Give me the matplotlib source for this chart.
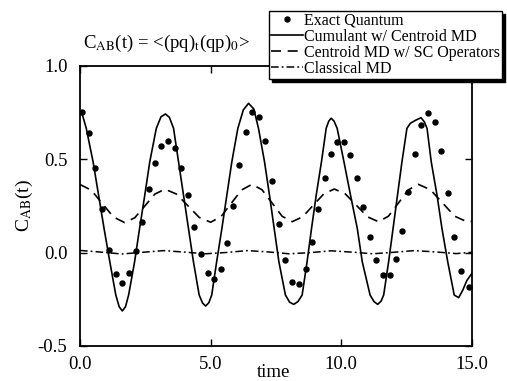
import matplotlib
matplotlib.use("Agg")
import matplotlib.pyplot as plt

plt.rcParams['font.family'] = ['Liberation Serif', 'DejaVu Serif']
plt.rcParams['mathtext.fontset'] = 'stix'

# Exact quantum (dots)
t_exact = [0.08, 0.33, 0.59, 0.85, 1.11, 1.37, 1.62, 1.88, 2.13, 2.37, 2.63, 2.86, 3.11, 3.37, 3.63,
           3.87, 4.12, 4.38, 4.64, 4.89, 5.14, 5.40, 5.64, 5.87, 6.10, 6.35, 6.60, 6.86, 7.09, 7.34,
           7.61, 7.86, 8.12, 8.37, 8.63, 8.86, 9.10, 9.36, 9.59, 9.84, 10.10, 10.35, 10.61, 10.84, 11.10,
           11.34, 11.59, 11.87, 12.10, 12.34, 12.57, 12.83, 13.06, 13.32, 13.57, 13.81, 14.07, 14.32, 14.58, 14.87]
y_exact = [0.755, 0.643, 0.455, 0.234, 0.014, -0.116, -0.160, -0.110, 0.011, 0.166, 0.340, 0.479, 0.573, 0.598, 0.559,
           0.455, 0.309, 0.139, -0.007, -0.110, -0.143, -0.087, 0.050, 0.250, 0.470, 0.648, 0.752, 0.728, 0.600, 0.384,
           0.152, -0.039, -0.155, -0.168, -0.087, 0.059, 0.234, 0.402, 0.529, 0.595, 0.595, 0.523, 0.398, 0.246, 0.086,
           -0.039, -0.120, -0.120, -0.036, 0.118, 0.323, 0.527, 0.684, 0.750, 0.702, 0.546, 0.321, 0.086, -0.096, -0.182]

# Cumulant w/ Centroid MD (solid)
t_cum = [0.00, 0.10, 0.24, 0.50, 0.71, 0.92, 1.14, 1.37, 1.50, 1.62, 1.74, 1.86, 2.09, 2.28, 2.48, 2.67, 2.92,
         3.10, 3.27, 3.42, 3.58, 3.77, 3.96, 4.15, 4.34, 4.56, 4.69, 4.81, 4.93, 5.04, 5.23, 5.43, 5.62, 5.81,
         6.04, 6.25, 6.45, 6.65, 6.83, 7.06, 7.25, 7.43, 7.61, 7.86, 8.02, 8.18, 8.34, 8.50, 8.69, 8.86, 9.04,
         9.24, 9.42, 9.52, 9.61, 9.72, 9.84, 10.10, 10.35, 10.61, 10.80, 11.10, 11.25, 11.39, 11.52, 11.62,
         11.81, 11.98, 12.15, 12.32, 12.51, 12.64, 12.85, 13.05, 13.18, 13.28, 13.44, 13.66, 13.85, 14.07,
         14.32, 14.49, 14.65, 14.80, 15.00]
y_cum = [0.755, 0.735, 0.666, 0.487, 0.309, 0.130, -0.048, -0.227, -0.290, -0.312, -0.290, -0.227, -0.048, 0.130, 0.309, 0.487, 0.666,
         0.728, 0.743, 0.725, 0.666, 0.487, 0.309, 0.130, -0.048, -0.227, -0.270, -0.286, -0.268, -0.227, -0.048, 0.130, 0.309, 0.487,
         0.666, 0.765, 0.800, 0.770, 0.666, 0.487, 0.309, 0.130, -0.048, -0.227, -0.265, -0.277, -0.262, -0.227, -0.048, 0.130, 0.309,
         0.487, 0.666, 0.705, 0.720, 0.705, 0.666, 0.487, 0.309, 0.130, -0.048, -0.227, -0.262, -0.277, -0.260, -0.227,
         -0.048, 0.130, 0.309, 0.487, 0.666, 0.693, 0.710, 0.723, 0.700, 0.666, 0.487, 0.309, 0.130, -0.048,
         -0.227, -0.241, -0.200, -0.150, -0.110]

# Centroid MD w/ SC Operators (dashed)
t_sc = [0.00, 0.43, 0.855, 1.28, 1.71, 2.095, 2.48, 2.865, 3.25, 3.69, 4.125, 4.56, 5.00, 5.395, 5.79, 6.185,
        6.58, 6.965, 7.35, 7.735, 8.12, 8.52, 8.925, 9.33, 9.73, 10.15, 10.575, 11.00, 11.42, 11.80, 12.185,
        12.57, 12.95, 13.41, 13.875, 14.34, 14.80, 15.00]
y_sc = [0.365, 0.335, 0.263, 0.191, 0.161, 0.187, 0.250, 0.314, 0.340, 0.314, 0.252, 0.189, 0.163, 0.193, 0.265, 0.336,
        0.366, 0.337, 0.266, 0.195, 0.166, 0.192, 0.254, 0.315, 0.341, 0.315, 0.254, 0.192, 0.166, 0.195, 0.266,
        0.337, 0.366, 0.337, 0.266, 0.195, 0.166, 0.168]

# Classical MD (dash-dot)
t_cl = [0.0, 0.8, 1.6, 2.4, 3.2, 4.0, 4.8, 5.6, 6.4, 7.2, 8.0, 8.8, 9.6, 10.4, 11.2, 12.0, 12.8, 13.6, 14.4, 15.0]
y_cl = [0.012, 0.003, -0.007, 0.002, 0.011, 0.003, -0.006, 0.001, 0.011, 0.004, -0.006, 0.000, 0.010, 0.003, -0.006, 0.002, 0.011, 0.004, -0.005, 0.002]

labels = ['Exact Quantum', 'Cumulant w/ Centroid MD', 'Centroid MD w/ SC Operators', 'Classical MD']
xticks = [0, 5, 10, 15]
xticklabels = ['0.0', '5.0', '10.0', '15.0']
yticks = [-0.5, 0.0, 0.5, 1.0]
yticklabels = ['-0.5', '0.0', '0.5', '1.0']

W, H = 507, 381
fig = plt.figure(figsize=(W / 100, H / 100), dpi=100)
ax = fig.add_axes([80 / W, 1 - 346 / H, (472 - 80) / W, (346 - 66) / H])

ax.plot(t_exact, y_exact, 'o', color='black', ms=3.6, label=labels[0], zorder=4)
ax.plot(t_cum, y_cum, '-', color='black', lw=1.2, label=labels[1])
ax.plot(t_sc, y_sc, color='black', lw=1.2, dashes=(6, 4), label=labels[2])
ax.plot(t_cl, y_cl, color='black', lw=1.1, dashes=(5, 2, 1.2, 2), label=labels[3])

ax.set_xlim(0, 15)
ax.set_ylim(-0.5, 1.0)
ax.set_xticks(xticks)
ax.set_xticklabels(xticklabels)
ax.set_yticks(yticks)
ax.set_yticklabels(yticklabels)
ax.tick_params(direction='in', length=5, width=1, top=True, right=True, labelsize=13.5)
ax.tick_params(axis='x', pad=7)
ax.tick_params(axis='y', pad=9)
for s in ax.spines.values():
    s.set_linewidth(1.3)

ax.set_ylabel(r'C$_{\rm AB}$(t)', fontsize=14, labelpad=2)
fig.text(274 / W, 1 - 377 / H, 'time', fontsize=13.5, ha='center', va='baseline')

fig.text(83 / W, 1 - 48 / H, r'C$_{\rm AB}$(t) = <(pq)$_{\rm t}$(qp)$_0$>', fontsize=13.5,
         ha='left', va='baseline')

leg = ax.legend(loc='upper left', bbox_to_anchor=(269 / W, 1 - 11 / H), bbox_transform=fig.transFigure,
                fontsize=11.5, numpoints=1, handlelength=2.0, handletextpad=0.1, borderpad=0.12,
                labelspacing=0.0, borderaxespad=0, fancybox=False, framealpha=1,
                shadow={'ox': 2, 'oy': -2, 'color': 'black', 'alpha': 1})
leg.get_frame().set_edgecolor('black')
leg.get_frame().set_linewidth(1.0)
leg.set_zorder(10)

fig.savefig('out.png', dpi=100)
